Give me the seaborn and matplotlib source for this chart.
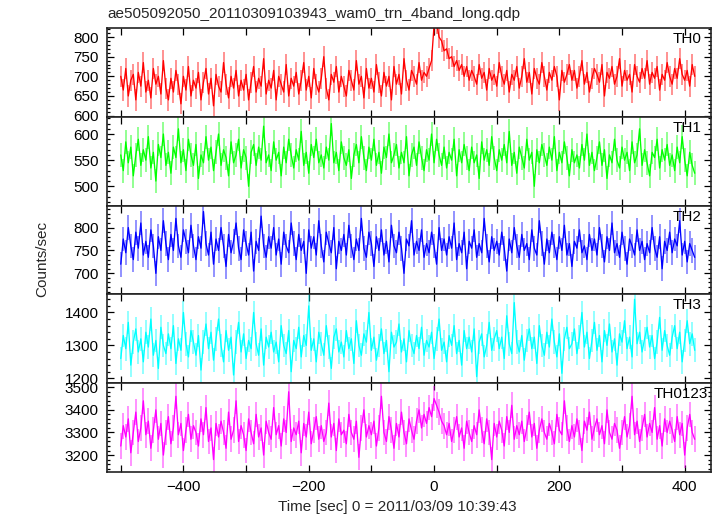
import numpy as np
import pandas as pd
import matplotlib
matplotlib.use("Agg")
import matplotlib.pyplot as plt
from matplotlib.ticker import MultipleLocator
import seaborn as sns

# ---- data (counts/sec, 4-s samples from t=-500 s) ----
t_start, t_stop, t_step = -500, 420, 4

th0 = [
    700, 665, 720, 650, 690, 705, 640, 710, 675, 735,
    660, 690, 645, 720, 680, 700, 655, 740, 670, 640,
    695, 660, 715, 680, 630, 700, 665, 725, 650, 690,
    670, 710, 640, 685, 720, 655, 695, 625, 705, 675,
    660, 735, 680, 645, 700, 670, 715, 650, 690, 665,
    705, 640, 685, 725, 660, 695, 675, 745, 655, 690,
    670, 715, 640, 700, 680, 660, 730, 650, 695, 675,
    710, 655, 690, 735, 665, 700, 645, 720, 680, 660,
    695, 750, 670, 640, 705, 685, 725, 660, 700, 675,
    650, 715, 690, 665, 740, 680, 700, 645, 720, 670,
    695, 660, 730, 685, 650, 710, 675, 700, 640, 725,
    680, 705, 655, 745, 690, 665, 715, 700, 680, 735,
    690, 710, 700, 720, 740, 830, 835, 800, 790, 765,
    770, 745, 750, 725, 740, 715, 730, 700, 725, 690,
    715, 700, 680, 730, 695, 710, 665, 720, 690, 705,
    675, 735, 700, 680, 715, 660, 705, 690, 725, 670,
    700, 745, 685, 710, 655, 720, 695, 680, 735, 700,
    665, 710, 690, 725, 700, 640, 715, 685, 705, 730,
    690, 715, 670, 700, 740, 680, 710, 660, 695, 720,
    705, 685, 730, 650, 710, 695, 725, 680, 700, 745,
    675, 715, 690, 705, 660, 730, 700, 685, 720, 695,
    740, 680, 710, 695, 725, 665, 705, 690, 735, 700,
    680, 720, 695, 745, 705, 690, 715, 675, 730, 700,
]

th1 = [
    560, 530, 585, 545, 575, 520, 560, 590, 540, 570,
    550, 595, 535, 565, 510, 580, 555, 600, 540, 565,
    525, 575, 555, 610, 545, 570, 530, 590, 560, 540,
    580, 515, 560, 545, 595, 550, 575, 530, 565, 600,
    540, 570, 555, 520, 585, 545, 560, 590, 535, 570,
    555, 500, 565, 580, 540, 575, 550, 615, 545, 560,
    530, 585, 550, 565, 520, 575, 545, 590, 560, 535,
    570, 550, 605, 540, 565, 525, 580, 555, 590, 545,
    560, 535, 575, 550, 620, 545, 565, 530, 585, 555,
    540, 570, 515, 560, 580, 545, 595, 555, 530, 575,
    550, 590, 540, 565, 525, 575, 555, 600, 545, 560,
    580, 535, 565, 545, 595, 520, 560, 575, 540, 585,
    555, 530, 570, 550, 600, 545, 590, 560, 540, 575,
    535, 565, 550, 590, 520, 570, 545, 580, 555, 530,
    575, 545, 560, 515, 585, 550, 570, 540, 595, 555,
    530, 570, 550, 580, 545, 605, 540, 565, 525, 575,
    555, 535, 590, 550, 565, 500, 570, 545, 580, 560,
    540, 575, 550, 595, 530, 565, 545, 585, 555, 520,
    570, 545, 560, 535, 580, 550, 600, 540, 565, 530,
    555, 585, 540, 570, 515, 560, 545, 590, 550, 535,
    575, 550, 565, 530, 585, 545, 560, 610, 540, 570,
    545, 520, 565, 555, 590, 535, 570, 550, 580, 540,
    560, 530, 575, 545, 595, 550, 520, 565, 540, 525,
]

th2 = [
    720, 775, 745, 800, 760, 730, 790, 755, 810, 740,
    770, 735, 795, 760, 700, 780, 750, 815, 765, 730,
    785, 750, 820, 760, 735, 795, 770, 745, 805, 760,
    730, 780, 755, 835, 765, 740, 790, 720, 775, 750,
    800, 760, 715, 785, 745, 770, 810, 755, 730, 795,
    765, 740, 790, 705, 770, 750, 825, 760, 735, 780,
    755, 800, 740, 775, 720, 790, 760, 745, 810, 765,
    730, 785, 750, 770, 700, 795, 755, 780, 740, 815,
    760, 725, 790, 765, 745, 800, 710, 770, 750, 785,
    740, 805, 760, 730, 775, 750, 820, 755, 735, 790,
    765, 715, 780, 750, 795, 740, 770, 725, 805, 760,
    745, 790, 755, 700, 775, 760, 815, 740, 770, 750,
    795, 735, 765, 745, 790, 760, 720, 800, 750, 775,
    740, 780, 755, 810, 730, 765, 745, 790, 710, 770,
    755, 795, 735, 765, 745, 820, 760, 725, 780, 750,
    770, 740, 790, 755, 705, 775, 745, 800, 760, 735,
    785, 750, 765, 730, 795, 755, 740, 815, 765, 720,
    775, 745, 790, 760, 730, 780, 750, 805, 740, 765,
    715, 770, 755, 795, 745, 760, 730, 785, 750, 775,
    740, 800, 760, 725, 780, 750, 810, 745, 765, 735,
    790, 755, 720, 775, 760, 740, 795, 750, 770, 730,
    765, 745, 800, 755, 735, 780, 710, 770, 750, 790,
    745, 775, 760, 815, 740, 770, 725, 765, 750, 735,
]

th3 = [
    1260, 1330, 1290, 1370, 1240, 1310, 1350, 1280, 1320, 1250,
    1340, 1295, 1380, 1270, 1315, 1230, 1355, 1300, 1275, 1335,
    1290, 1360, 1245, 1320, 1285, 1400, 1305, 1265, 1345, 1310,
    1270, 1330, 1225, 1310, 1365, 1290, 1340, 1255, 1320, 1380,
    1300, 1250, 1345, 1285, 1325, 1210, 1310, 1370, 1280, 1335,
    1260, 1315, 1290, 1400, 1305, 1270, 1350, 1240, 1325, 1295,
    1340, 1280, 1310, 1250, 1360, 1300, 1275, 1345, 1220, 1315,
    1290, 1355, 1265, 1330, 1300, 1420, 1285, 1320, 1250, 1340,
    1305, 1270, 1360, 1295, 1230, 1325, 1350, 1280, 1310, 1265,
    1345, 1290, 1320, 1245, 1375, 1300, 1270, 1335, 1310, 1400,
    1285, 1325, 1255, 1300, 1350, 1275, 1315, 1220, 1340, 1295,
    1310, 1365, 1280, 1320, 1250, 1345, 1300, 1275, 1330, 1290,
    1355, 1270, 1315, 1295, 1340, 1260, 1320, 1380, 1285, 1310,
    1250, 1330, 1300, 1360, 1275, 1315, 1240, 1345, 1290, 1325,
    1280, 1350, 1205, 1310, 1335, 1265, 1300, 1370, 1285, 1320,
    1345, 1290, 1325, 1260, 1390, 1305, 1275, 1430, 1310, 1280,
    1330, 1255, 1315, 1350, 1290, 1325, 1245, 1360, 1300, 1270,
    1340, 1295, 1380, 1310, 1265, 1335, 1215, 1320, 1355, 1290,
    1305, 1350, 1275, 1325, 1400, 1295, 1340, 1260, 1315, 1370,
    1285, 1330, 1250, 1345, 1300, 1365, 1280, 1320, 1240, 1335,
    1310, 1375, 1290, 1325, 1265, 1440, 1305, 1340, 1280, 1320,
    1355, 1295, 1330, 1260, 1310, 1385, 1285, 1345, 1300, 1270,
    1325, 1360, 1290, 1340, 1250, 1315, 1375, 1305, 1335, 1285,
]

th0123 = [
    3240, 3330, 3280, 3360, 3210, 3300, 3390, 3260, 3320, 3440,
    3290, 3350, 3230, 3310, 3400, 3270, 3340, 3200, 3300, 3370,
    3250, 3320, 3460, 3290, 3340, 3220, 3310, 3380, 3270, 3330,
    3300, 3240, 3360, 3290, 3410, 3260, 3320, 3180, 3340, 3280,
    3350, 3300, 3230, 3390, 3270, 3310, 3440, 3260, 3330, 3290,
    3220, 3360, 3300, 3250, 3380, 3280, 3320, 3200, 3350, 3300,
    3270, 3410, 3290, 3330, 3240, 3360, 3300, 3480, 3260, 3320,
    3290, 3350, 3210, 3340, 3280, 3390, 3250, 3310, 3370, 3270,
    3330, 3260, 3300, 3430, 3280, 3340, 3220, 3360, 3290, 3310,
    3250, 3380, 3300, 3270, 3350, 3190, 3320, 3400, 3280, 3330,
    3290, 3350, 3240, 3320, 3460, 3300, 3260, 3370, 3310, 3230,
    3340, 3280, 3390, 3300, 3250, 3360, 3310, 3270, 3350, 3400,
    3320, 3380, 3340, 3410, 3370, 3450, 3420, 3390, 3350, 3330,
    3290, 3340, 3260, 3310, 3370, 3280, 3320, 3230, 3350, 3300,
    3260, 3330, 3290, 3400, 3310, 3250, 3360, 3300, 3180, 3340,
    3280, 3350, 3310, 3240, 3370, 3300, 3420, 3270, 3330, 3290,
    3350, 3260, 3320, 3390, 3280, 3340, 3230, 3310, 3360, 3300,
    3270, 3340, 3300, 3250, 3380, 3310, 3290, 3440, 3320, 3260,
    3330, 3280, 3360, 3300, 3220, 3350, 3310, 3390, 3270, 3320,
    3360, 3290, 3330, 3250, 3400, 3300, 3270, 3340, 3310, 3230,
    3300, 3370, 3280, 3330, 3460, 3290, 3350, 3260, 3320, 3380,
    3280, 3340, 3300, 3410, 3270, 3330, 3240, 3360, 3300, 3350,
    3310, 3260, 3370, 3290, 3340, 3200, 3320, 3380, 3300, 3270,
]

# typical 1-sigma error bar half-length per band (counts/sec), read from the halo
band_errors = [27, 23, 27, 36, 57]

band_names = ["TH0", "TH1", "TH2", "TH3", "TH0123"]
band_values = [th0, th1, th2, th3, th0123]
band_colors = ["#ff0000", "#00ff00", "#0000ff", "#00ffff", "#ff00ff"]
band_ylims = [(597, 823), (463, 633), (654, 848), (1185, 1455), (3125, 3518)]
band_major = [50, 50, 50, 100, 100]
band_minor = [10, 10, 10, 20, 20]
x_ticks = [-400, -200, 0, 200, 400]

title = "ae505092050_20110309103943_wam0_trn_4band_long.qdp"
xlabel = "Time [sec] 0 = 2011/03/09 10:39:43"
ylabel = "Counts/sec"

# ---- plotting ----
sns.set_theme(style="ticks")
plt.rcParams["font.family"] = ["Liberation Sans", "DejaVu Sans"]
plt.rcParams["font.size"] = 11

times = np.arange(t_start, t_stop, t_step)

fig, axes = plt.subplots(5, 1, sharex=True, figsize=(7.17, 5.16), dpi=100)
fig.subplots_adjust(left=107 / 717, right=711 / 717, top=1 - 28 / 516,
                    bottom=1 - 472 / 516, hspace=0)

for ax, name, vals, err, col, ylim, maj, mnr in zip(
        axes, band_names, band_values, band_errors, band_colors,
        band_ylims, band_major, band_minor):
    df = pd.DataFrame({"time": times, "rate": vals})
    ax.errorbar(df["time"], df["rate"], yerr=err, fmt="none", ecolor=col,
                elinewidth=1.2, alpha=0.5, capsize=0)
    sns.lineplot(data=df, x="time", y="rate", ax=ax, color=col, lw=0.95,
                 estimator=None)
    ax.set_ylim(*ylim)
    ax.set_xlim(-522, 442)
    ax.yaxis.set_major_locator(MultipleLocator(maj))
    ax.yaxis.set_minor_locator(MultipleLocator(mnr))
    ax.set_xticks(x_ticks)
    ax.xaxis.set_minor_locator(MultipleLocator(100))
    ax.tick_params(which="both", direction="in", top=True, right=True,
                   colors="black", labelsize=11, width=0.9)
    ax.tick_params(which="major", length=5, pad=6)
    ax.tick_params(which="minor", length=2.5)
    ax.tick_params(axis="x", which="minor", length=5)
    ax.set_xlabel("")
    ax.set_ylabel("")
    for sp in ax.spines.values():
        sp.set_linewidth(1.2)
        sp.set_color("#222222")
    ax.text(0.985 if name != "TH0123" else 0.995, 1 - 11 / 89, name,
            transform=ax.transAxes, ha="right", va="center", fontsize=11,
            color="black")

for ax in axes[:-1]:
    ax.tick_params(axis="x", labelbottom=False)

fig.text(107 / 717, 1 - 14 / 516, title, ha="left", va="center", fontsize=11)
fig.text(397 / 717, 1 - 507 / 516, xlabel, ha="center", va="center", fontsize=11)
fig.text(42 / 717, 1 - 259 / 516, ylabel, ha="center", va="center",
         rotation=90, fontsize=11)

fig.savefig("out.png", dpi=100)
